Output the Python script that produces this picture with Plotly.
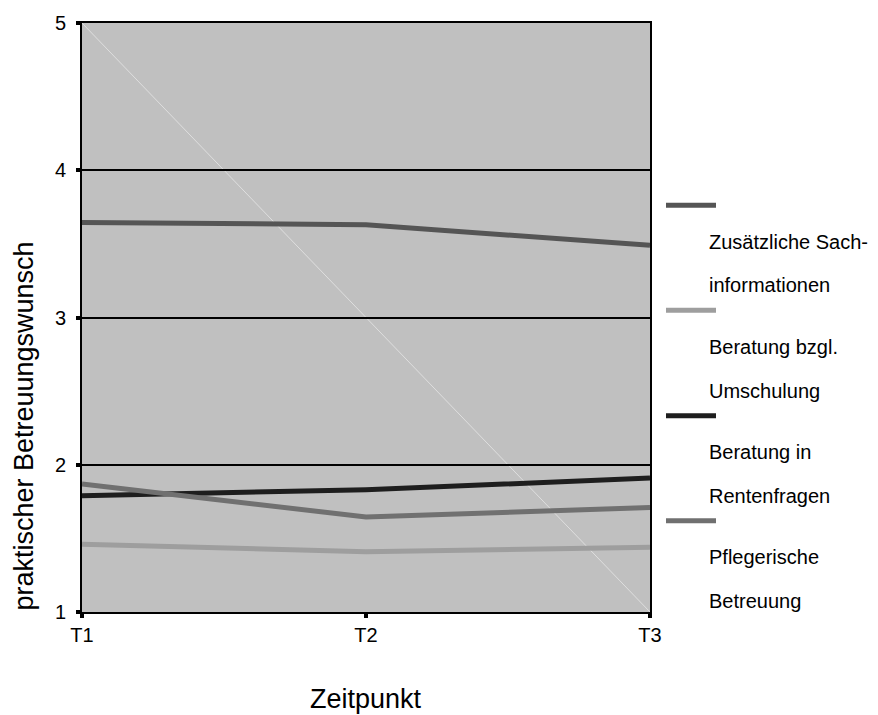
import plotly.graph_objects as go

# ---- data ----
zeitpunkte = ["T1", "T2", "T3"]
serien = ["Zusätzliche Sach-<br>informationen", "Beratung bzgl.<br>Umschulung",
          "Beratung in<br>Rentenfragen", "Pflegerische<br>Betreuung"]
sachinfo = [3.645, 3.63, 3.49]
umschulung = [1.46, 1.41, 1.44]
renten = [1.79, 1.83, 1.91]
pflege = [1.87, 1.645, 1.71]
werte = [sachinfo, umschulung, renten, pflege]
farben = ["#555555", "#9e9e9e", "#1e1e1e", "#707070"]
y_ticks = [1, 2, 3, 4, 5]

FONT = "Liberation Sans, Arial, sans-serif"
W, H = 878, 715
L, R, T, B = 82, 650, 18, 612  # plot area in pixels


def px(xp):
    return (xp - L) / (R - L)


def py(yp):
    return (B - yp) / (B - T)


fig = go.Figure()
for name, vals, col in zip(serien, werte, farben):
    fig.add_trace(go.Scatter(x=zeitpunkte, y=vals, mode="lines", name=name,
                             line=dict(color=col, width=5), showlegend=False))

# faint diagonal artefact line
fig.add_shape(type="line", xref="x domain", yref="y domain", x0=0, y0=1, x1=1, y1=0,
              line=dict(color="#dedede", width=1), layer="below")

# custom legend (symbol line, then two text lines below)
leg_sym_y = [201.7, 307.7, 414, 520]
for i, (name, col) in enumerate(zip(serien, farben)):
    s = leg_sym_y[i]
    fig.add_shape(type="line", xref="paper", yref="paper",
                  x0=px(666), x1=px(716), y0=py(s), y1=py(s),
                  line=dict(color=col, width=5))
    lines = name.split("<br>")
    for j, t in enumerate(lines):
        fig.add_annotation(xref="paper", yref="paper", x=px(707), y=py(s + 37 + 44 * j),
                           text=t, showarrow=False, xanchor="left", yanchor="middle",
                           font=dict(family=FONT, size=20, color="black"))

# axis titles
fig.add_annotation(xref="paper", yref="paper", x=px(24), y=py(425),
                   text="praktischer Betreuungswunsch", textangle=-90, showarrow=False,
                   xanchor="center", yanchor="middle",
                   font=dict(family=FONT, size=27, color="black"))
fig.add_annotation(xref="paper", yref="paper", x=px(366), y=py(700),
                   text="Zeitpunkt", showarrow=False, xanchor="center", yanchor="middle",
                   font=dict(family=FONT, size=27, color="black"))

fig.update_layout(
    width=W, height=H,
    margin=dict(l=L, r=W - R, t=T, b=H - B),
    paper_bgcolor="white", plot_bgcolor="#c0c0c0",
    font=dict(family=FONT, size=20, color="black"),
)
fig.update_xaxes(type="category", range=[0, 2], showline=True, linecolor="black", linewidth=2,
                 mirror=True, ticks="outside", ticklen=4, tickwidth=4, tickcolor="black",
                 showgrid=False, zeroline=False, ticklabelstandoff=0,
                 tickfont=dict(family=FONT, size=20, color="black"))
fig.update_yaxes(range=[1, 5], tickvals=y_ticks, showline=True, linecolor="black", linewidth=2,
                 mirror=True, ticks="outside", ticklen=4, tickwidth=4, tickcolor="black",
                 showgrid=True, gridcolor="black", gridwidth=2, zeroline=False,
                 ticklabelstandoff=6,
                 tickfont=dict(family=FONT, size=20, color="black"))

fig.write_html("out.html")
